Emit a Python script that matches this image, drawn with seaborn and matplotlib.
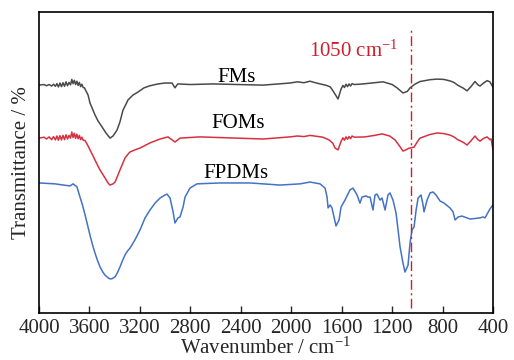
import numpy as np
import pandas as pd
import matplotlib
matplotlib.use("Agg")
import matplotlib.pyplot as plt
import seaborn as sns

# FTIR spectra: wavenumber (cm^-1) and transmittance (a.u., offset per sample)
fms_wn = [4000, 3960, 3940, 3920, 3900, 3885, 3870, 3858, 3846, 3834, 3822, 3810,
          3798, 3786, 3774, 3762, 3750, 3740, 3730, 3720, 3710, 3700, 3690, 3680,
          3670, 3660, 3650, 3640, 3611, 3596, 3572, 3556, 3532, 3500, 3469, 3437,
          3413, 3381, 3358, 3334, 3310, 3294, 3255, 3215, 3167, 3120, 3056, 3001,
          2945, 2922, 2900, 2800, 2620, 2224, 2010, 1950, 1900, 1851, 1800, 1760,
          1720, 1690, 1660, 1629, 1605, 1590, 1578, 1566, 1554, 1542, 1530, 1518,
          1500, 1431, 1340, 1272, 1200, 1161, 1114, 1080, 1058, 1020, 979, 900,
          844, 790, 741, 710, 677, 640, 606, 575, 543, 520, 503, 475, 447, 425, 400]
fms_t = [75.7, 75.9, 75.5, 75.9, 75.4, 76.0, 75.3, 76.2, 75.1, 76.4, 75.2, 76.5,
         75.3, 76.8, 75.5, 76.6, 75.8, 77.6, 76.2, 77.3, 75.9, 77.0, 75.6, 76.6,
         75.2, 76.0, 74.9, 74.8, 72.4, 69.8, 67.4, 65.8, 63.8, 61.8, 59.8, 58.1,
         58.8, 60.8, 63.5, 67.4, 69.4, 70.8, 72.4, 73.4, 74.8, 75.5, 76.1, 76.4,
         76.4, 74.8, 76.1, 75.9, 76.1, 75.7, 76.4, 76.8, 76.5, 77.0, 76.4, 76.0,
         75.6, 75.1, 73.2, 71.1, 74.4, 75.6, 74.9, 76.0, 75.2, 76.1, 75.4, 76.2,
         75.9, 76.1, 76.5, 76.8, 75.9, 74.8, 73.1, 73.6, 74.8, 76.0, 76.9, 77.5,
         77.7, 77.6, 77.1, 76.6, 75.6, 74.8, 73.8, 75.2, 76.9, 75.8, 75.4, 76.4,
         77.2, 76.8, 75.0]

foms_wn = [4000, 3960, 3940, 3920, 3900, 3885, 3870, 3858, 3846, 3834, 3822, 3810,
           3798, 3786, 3774, 3762, 3750, 3740, 3730, 3720, 3710, 3700, 3690, 3680,
           3670, 3660, 3650, 3635, 3611, 3596, 3572, 3556, 3532, 3516, 3500, 3477,
           3453, 3437, 3413, 3397, 3358, 3318, 3294, 3278, 3239, 3199, 3120, 3040,
           2977, 2922, 2882, 2723, 2224, 2010, 1950, 1900, 1851, 1800, 1750, 1700,
           1670, 1653, 1629, 1605, 1590, 1578, 1566, 1554, 1542, 1530, 1518, 1500,
           1415, 1340, 1280, 1220, 1177, 1140, 1114, 1090, 1074, 1050, 1026, 1000,
           979, 900, 844, 790, 741, 710, 677, 640, 606, 575, 543, 520, 503, 475,
           447, 425, 415, 400]
foms_t = [58.1, 58.4, 57.8, 58.5, 57.6, 58.6, 57.5, 58.8, 57.4, 58.9, 57.5, 59.0,
          57.6, 59.2, 57.8, 59.0, 58.1, 60.1, 58.3, 59.7, 58.0, 59.4, 57.9, 59.0,
          57.6, 58.4, 57.4, 57.3, 55.5, 54.2, 52.2, 50.8, 48.8, 47.5, 46.4, 44.9,
          43.2, 42.5, 42.9, 43.5, 47.5, 51.5, 52.8, 53.5, 54.2, 54.8, 56.5, 57.8,
          58.5, 56.8, 58.1, 58.5, 57.8, 58.5, 58.8, 58.6, 59.0, 58.7, 58.4, 57.5,
          56.4, 54.8, 54.2, 57.0, 58.2, 57.4, 58.5, 57.7, 58.6, 57.9, 58.8, 58.4,
          58.5, 59.0, 59.5, 58.8, 57.5, 55.4, 53.8, 54.2, 54.6, 54.9, 55.1, 56.9,
          58.1, 59.3, 59.8, 59.6, 59.1, 58.5, 57.5, 56.8, 55.8, 57.2, 58.8, 57.6,
          57.1, 58.0, 58.5, 57.6, 57.8, 54.2]

fpdms_wn = [4000, 3873, 3754, 3730, 3699, 3675, 3655, 3635, 3615, 3596, 3576, 3556,
            3536, 3516, 3497, 3477, 3453, 3437, 3421, 3397, 3378, 3358, 3338, 3318,
            3298, 3278, 3239, 3199, 3159, 3120, 3080, 3040, 3001, 2985, 2961, 2937,
            2922, 2898, 2882, 2858, 2842, 2803, 2747, 2565, 2327, 2089, 1930, 1851,
            1772, 1732, 1716, 1708, 1692, 1677, 1661, 1645, 1621, 1605, 1574, 1534,
            1510, 1478, 1455, 1439, 1407, 1391, 1375, 1352, 1336, 1320, 1296, 1280,
            1256, 1233, 1217, 1193, 1169, 1153, 1137, 1114, 1098, 1074, 1058, 1042,
            1026, 1010, 994, 971, 955, 947, 923, 899, 876, 852, 820, 788, 741, 717,
            701, 677, 646, 582, 503, 479, 463, 424, 400]
fpdms_t = [43.2, 42.9, 42.2, 42.9, 41.9, 38.5, 35.8, 32.6, 29.2, 25.9, 22.7, 19.9,
           17.4, 15.3, 13.8, 12.6, 11.7, 11.3, 11.4, 12.0, 13.4, 15.3, 17.4, 19.3,
           20.6, 21.6, 24.3, 27.6, 31.6, 34.2, 36.5, 38.2, 39.2, 39.5, 38.2, 33.6,
           29.9, 31.6, 31.9, 35.2, 38.5, 41.5, 42.9, 43.2, 43.2, 42.5, 42.9, 43.5,
           42.9, 41.5, 38.5, 34.9, 35.9, 34.9, 31.9, 28.9, 30.9, 35.2, 37.5, 40.9,
           41.5, 39.2, 36.5, 38.5, 38.9, 38.5, 38.5, 34.2, 39.2, 39.5, 37.5, 38.2,
           34.2, 39.2, 39.9, 37.5, 33.2, 27.6, 21.9, 16.6, 13.6, 15.9, 23.3, 27.6,
           28.6, 34.2, 38.2, 39.2, 35.9, 33.6, 37.5, 39.9, 40.2, 39.2, 37.2, 36.5,
           34.9, 33.6, 30.9, 31.9, 32.2, 31.2, 31.6, 31.9, 31.6, 34.6, 35.9]

samples = ["FMs", "FOMs", "FPDMs"]
label_wn = [2430, 2422, 2440]
label_t = [76.9, 61.5, 44.9]
x_ticks = [4000, 3600, 3200, 2800, 2400, 2000, 1600, 1200, 800, 400]
marker_wn = 1050
marker_text = "1050 cm$^{-1}$"

frames = []
for name, wn, t in zip(samples, [fms_wn, foms_wn, fpdms_wn],
                       [fms_t, foms_t, fpdms_t]):
    frames.append(pd.DataFrame({"wavenumber": wn, "transmittance": t,
                                "sample": name}))
df = pd.concat(frames, ignore_index=True)

sns.set_style("ticks")
plt.rcParams["font.family"] = ["Liberation Serif", "DejaVu Serif"]
plt.rcParams["mathtext.fontset"] = "custom"
plt.rcParams["mathtext.rm"] = "Liberation Serif"
plt.rcParams["mathtext.it"] = "Liberation Serif:italic"

palette = {"FMs": "#4a4a4a", "FOMs": "#d8303f", "FPDMs": "#4472c4"}

fig = plt.figure(figsize=(5.14, 3.6), dpi=100)
ax = fig.add_axes([0.0759, 0.1306, 0.8833, 0.8361])

sns.lineplot(data=df, x="wavenumber", y="transmittance", hue="sample",
             palette=palette, sort=False, estimator=None, linewidth=1.1,
             legend=False, ax=ax)

ax.set_xlim(4000, 400)
ax.set_ylim(0, 100)
ax.set_xticks(x_ticks)
ax.set_xticklabels([str(v) for v in x_ticks], fontsize=15)
ax.set_yticks([])
ax.tick_params(axis="x", direction="in", length=5, width=1.0, pad=4)

for side in ["left", "right", "top", "bottom"]:
    ax.spines[side].set_visible(True)
    ax.spines[side].set_linewidth(1.2)
    ax.spines[side].set_color("black")

ax.set_xlabel("Wavenumber / cm$^{-1}$", fontsize=15, labelpad=0)
ax.set_ylabel("Transmittance / %", fontsize=15, labelpad=6)

for name, x, y in zip(samples, label_wn, label_t):
    ax.text(x, y, name, fontsize=15, ha="center", va="baseline", color="black")

ax.plot([marker_wn, marker_wn], [1.7, 94.0], color="#c8202e", linewidth=1.0,
        linestyle=(0, (7, 2.5, 1.5, 2.5)))
ax.text(1502, 85.0, marker_text, fontsize=15, color="#c8202e",
        ha="center", va="baseline")

fig.savefig("out.png", dpi=100)
